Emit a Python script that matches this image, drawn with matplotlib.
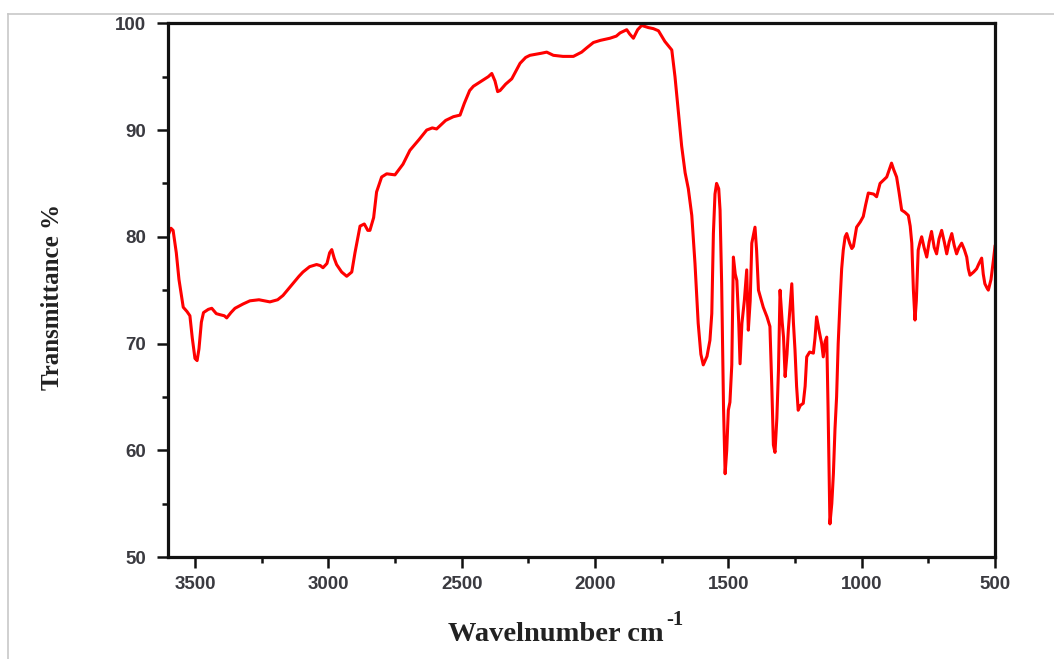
import matplotlib
matplotlib.use("Agg")
import matplotlib.pyplot as plt
from matplotlib.lines import Line2D
from matplotlib.font_manager import FontProperties

# ---- data ----
wavenumber = [
    3598, 3590, 3582, 3570, 3560, 3544, 3530, 3519, 3510, 3500, 3492, 3485, 3476, 3468,
    3450, 3437, 3420, 3406, 3390, 3381, 3365, 3350, 3320, 3294, 3260, 3219, 3190, 3170,
    3140, 3110, 3095, 3070, 3044, 3030, 3020, 3005, 2995, 2987, 2978, 2969, 2950, 2931,
    2912, 2900, 2881, 2865, 2852, 2844, 2830, 2819, 2800, 2781, 2750, 2720, 2694, 2660,
    2631, 2610, 2594, 2560, 2531, 2506, 2490, 2470, 2456, 2419, 2400, 2387, 2375, 2365,
    2356, 2335, 2312, 2295, 2281, 2260, 2244, 2200, 2181, 2156, 2120, 2081, 2050, 2031,
    2006, 1980, 1944, 1920, 1906, 1881, 1870, 1856, 1840, 1825, 1800, 1781, 1762, 1738,
    1712, 1700, 1688, 1675, 1662, 1650, 1637, 1625, 1613, 1603, 1594, 1580, 1569, 1562,
    1556, 1550, 1544, 1536, 1531, 1525, 1518, 1512, 1506, 1500, 1494, 1487, 1481, 1474,
    1468, 1461, 1456, 1449, 1440, 1431, 1425, 1418, 1412, 1400, 1394, 1387, 1369, 1355,
    1344, 1337, 1331, 1325, 1318, 1312, 1306, 1298, 1293, 1287, 1280, 1275, 1262, 1256,
    1250, 1244, 1238, 1230, 1219, 1212, 1206, 1195, 1181, 1175, 1169, 1160, 1150, 1144,
    1137, 1131, 1126, 1119, 1112, 1106, 1100, 1094, 1088, 1081, 1075, 1069, 1062, 1056,
    1045, 1037, 1031, 1019, 1005, 994, 985, 975, 955, 944, 931, 906, 888, 880,
    869, 860, 850, 838, 825, 818, 812, 806, 800, 795, 788, 781, 775, 766,
    756, 747, 738, 728, 719, 710, 700, 690, 681, 672, 662, 653, 644, 635,
    625, 615, 606, 600, 594, 580, 569, 560, 550, 544, 538, 530, 525, 515,
    506, 500,
]
transmittance = [
    80.3, 80.8, 80.6, 78.5, 76.0, 73.4, 73.0, 72.6, 70.5, 68.6, 68.4, 69.5, 72.0, 72.9,
    73.2, 73.3, 72.8, 72.7, 72.6, 72.4, 72.9, 73.3, 73.7, 74.0, 74.1, 73.9, 74.1, 74.5,
    75.4, 76.3, 76.7, 77.2, 77.4, 77.3, 77.1, 77.5, 78.5, 78.8, 78.0, 77.4, 76.7, 76.3,
    76.7, 78.5, 81.0, 81.2, 80.6, 80.6, 81.8, 84.2, 85.6, 85.9, 85.8, 86.8, 88.1, 89.1,
    90.0, 90.2, 90.1, 90.9, 91.25, 91.4, 92.5, 93.7, 94.1, 94.7, 95.0, 95.3, 94.6, 93.6,
    93.7, 94.3, 94.8, 95.6, 96.25, 96.8, 97.0, 97.2, 97.3, 97.0, 96.9, 96.9, 97.3, 97.7,
    98.2, 98.4, 98.6, 98.8, 99.1, 99.4, 99.0, 98.6, 99.4, 99.8, 99.6, 99.5, 99.3, 98.3,
    97.5, 95.0, 91.9, 88.5, 86.0, 84.5, 82.0, 77.5, 71.9, 69.0, 68.0, 68.8, 70.3, 72.8,
    80.3, 84.0, 85.0, 84.5, 82.5, 75.6, 64.0, 57.8, 60.0, 63.75, 64.5, 68.0, 78.1, 76.5,
    75.9, 72.0, 68.1, 71.9, 74.0, 76.9, 71.25, 74.0, 79.4, 80.9, 78.75, 75.0, 73.4, 72.5,
    71.6, 66.0, 60.5, 59.8, 63.0, 67.5, 75.0, 72.0, 70.6, 66.9, 69.0, 71.25, 75.6, 72.0,
    69.4, 66.0, 63.75, 64.2, 64.4, 66.0, 68.75, 69.2, 69.1, 70.5, 72.5, 71.25, 70.0, 68.75,
    70.2, 70.6, 64.0, 53.1, 55.0, 57.8, 62.0, 65.0, 70.0, 74.0, 77.0, 78.75, 80.0, 80.3,
    79.4, 78.9, 79.1, 80.9, 81.4, 81.9, 83.0, 84.1, 84.0, 83.75, 85.0, 85.6, 86.9, 86.3,
    85.6, 84.2, 82.5, 82.3, 82.0, 81.0, 79.4, 75.0, 72.2, 74.0, 78.75, 79.5, 80.0, 79.0,
    78.1, 79.5, 80.5, 79.0, 78.4, 79.8, 80.6, 79.5, 78.4, 79.5, 80.3, 79.2, 78.4, 79.0,
    79.4, 78.8, 78.1, 77.0, 76.4, 76.7, 77.0, 77.5, 78.0, 76.5, 75.6, 75.2, 75.0, 76.0,
    77.8, 79.1,
]
x_ticks = [3500, 3000, 2500, 2000, 1500, 1000, 500]
y_ticks = [50, 60, 70, 80, 90, 100]
x_label = "Wavelnumber cm"
x_label_sup = "-1"
y_label = "Transmittance %"

W, H = 1054, 659
fig = plt.figure(figsize=(W / 100, H / 100), dpi=100)
fig.patch.set_facecolor("white")

ax = fig.add_axes([168.3 / W, 1 - 557 / H, (995 - 168.3) / W, (557 - 23.3) / H])
ax.plot(wavenumber, transmittance, color="#ff0000", lw=2.2, solid_joinstyle="round")

ax.set_xlim(3600, 500)
ax.set_ylim(50, 100)
ax.set_xticks(x_ticks)
ax.set_yticks(y_ticks)
ax.set_xticks([3250, 2750, 2250, 1750, 1250, 750], minor=True)
ax.set_yticks([55, 65, 75, 85, 95], minor=True)

for sp in ax.spines.values():
    sp.set_linewidth(2.3)
    sp.set_color("#111111")

tick_fp = FontProperties(family="Liberation Sans", weight="bold", size=13.5)
ax.tick_params(axis="both", which="major", direction="out", length=8, width=1.8,
               color="#111111", labelcolor="#3a3a40", pad=6)
ax.tick_params(axis="both", which="minor", direction="out", length=4, width=1.8,
               color="#111111")
ax.tick_params(axis="y", which="major", pad=8)
for lbl in ax.get_xticklabels() + ax.get_yticklabels():
    lbl.set_fontproperties(tick_fp)

# axis labels
fig.text(53 / W, 1 - 297 / H, y_label, rotation=90, ha="center", va="center",
         family="Liberation Serif", weight="bold", size=18, color="#222222")
xl = fig.text(556 / W, 1 - 641 / H, x_label, ha="center", va="baseline",
              family="Liberation Serif", weight="bold", size=20.5, color="#222222")
ax.annotate(x_label_sup, xy=(1.0, 1.0), xycoords=xl, xytext=(2, -6),
            textcoords="offset points", ha="left", va="bottom",
            family="Liberation Serif", weight="bold", size=15, color="#222222")

# light frame lines around the image
fig.add_artist(Line2D([8 / W, 1], [1 - 13.5 / H, 1 - 13.5 / H], transform=fig.transFigure,
                      color="#c8c8c8", lw=1.2))
fig.add_artist(Line2D([8 / W, 8 / W], [0, 1 - 13.5 / H], transform=fig.transFigure,
                      color="#c8c8c8", lw=1.2))

fig.savefig("out.png", dpi=100, facecolor="white")
